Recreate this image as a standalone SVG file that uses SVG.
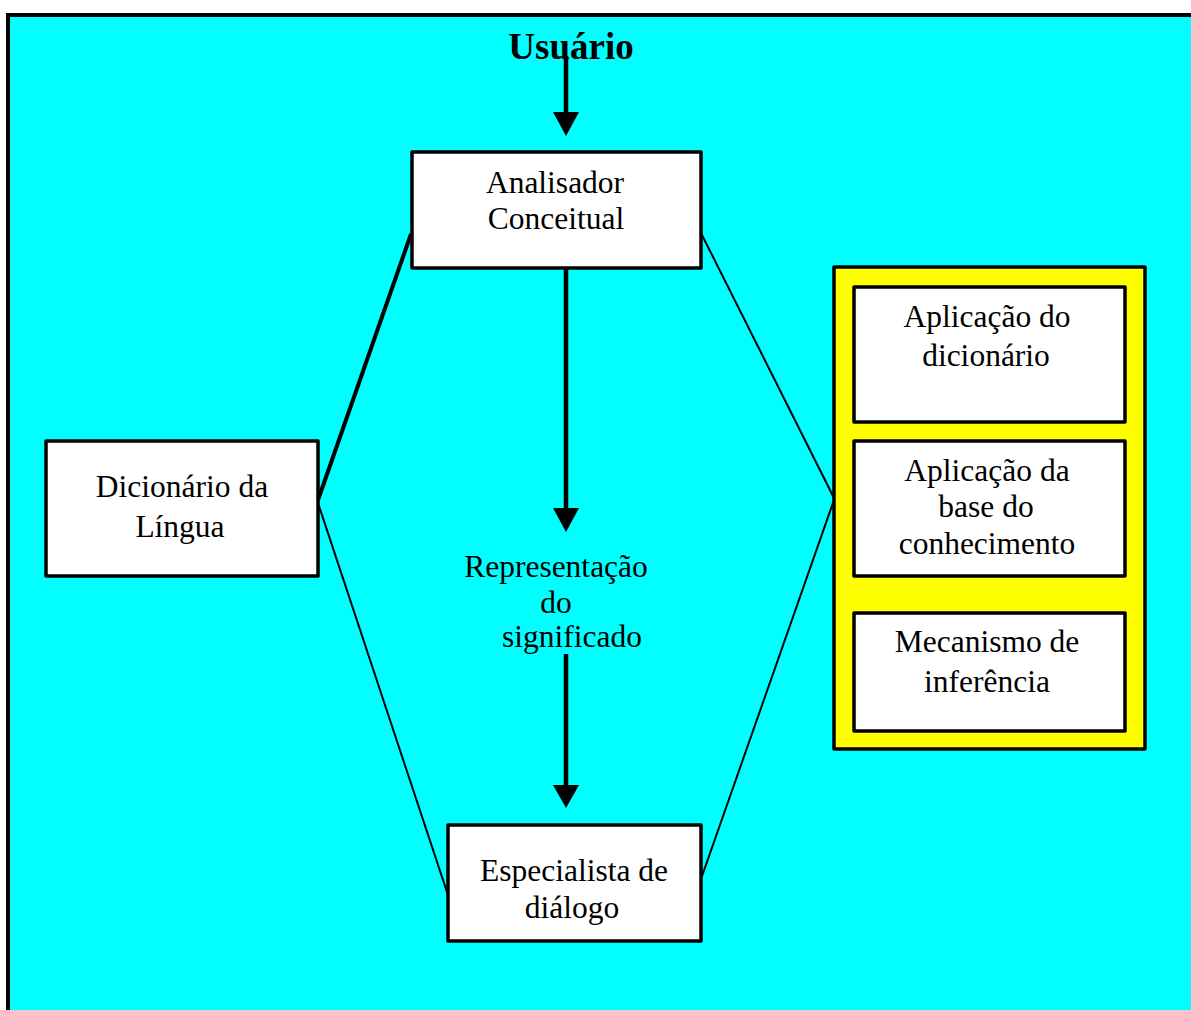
<svg xmlns="http://www.w3.org/2000/svg" width="1191" height="1010" viewBox="0 0 1191 1010">
  <style>
    .box { fill: #ffffff; stroke: #000000; stroke-width: 3.5; stroke-linejoin: round; }
    .label { font-family: "Liberation Serif", "Times New Roman", serif; font-size: 31.5px; fill: #000000; text-anchor: middle; }
    .title { font-family: "Liberation Serif", "Times New Roman", serif; font-size: 37px; font-weight: bold; fill: #000000; text-anchor: middle; }
    .flow { stroke: #000000; stroke-width: 4.5; fill: none; }
    .link { stroke: #000000; stroke-width: 2; fill: none; }
    .head { fill: #000000; }
  </style>

  <!-- background panel -->
  <rect x="8" y="15" width="1200" height="1010" fill="#00ffff" stroke="#000000" stroke-width="4"/>

  <g id="usuario">
    <text class="title" x="571" y="59">Usuário</text>
  </g>

  <g id="connectors">
    <!-- main flow: user -> analyser -> meaning -> dialogue specialist -->
    <line class="flow" x1="566" y1="56" x2="566" y2="114"/>
    <polygon class="head" points="553,112 579,112 566,136"/>
    <line class="flow" x1="566" y1="268" x2="566" y2="510"/>
    <polygon class="head" points="553,508 579,508 566,532"/>
    <line class="flow" x1="566" y1="654" x2="566" y2="787"/>
    <polygon class="head" points="553,785 579,785 566,808"/>
    <!-- side links -->
    <line class="flow" style="stroke-width:4" x1="411" y1="234" x2="318" y2="500"/>
    <line class="link" x1="318" y1="503" x2="448" y2="895"/>
    <line class="link" x1="701" y1="233" x2="834" y2="498"/>
    <line class="link" x1="834" y1="500" x2="701" y2="879"/>
  </g>

  <g id="analisador">
    <rect class="box" x="412" y="152" width="289" height="116"/>
    <text class="label" x="555" y="193">Analisador</text>
    <text class="label" x="556" y="229">Conceitual</text>
  </g>

  <g id="dicionario">
    <rect class="box" x="46" y="441" width="272" height="135"/>
    <text class="label" x="182" y="497">Dicionário da</text>
    <text class="label" x="180" y="537">Língua</text>
  </g>

  <g id="representacao">
    <text class="label" x="556" y="577">Representação</text>
    <text class="label" x="556" y="613">do</text>
    <text class="label" x="572" y="647">significado</text>
  </g>

  <g id="especialista">
    <rect class="box" x="448" y="825" width="253" height="116"/>
    <text class="label" x="574" y="881">Especialista de</text>
    <text class="label" x="572" y="918">diálogo</text>
  </g>

  <g id="aplicacoes">
    <rect x="834" y="267" width="311" height="482" fill="#ffff00" stroke="#000000" stroke-width="3.5" stroke-linejoin="round"/>
    <g id="aplicacao-dicionario">
      <rect class="box" x="854" y="287" width="271" height="135"/>
      <text class="label" x="987" y="327">Aplicação do</text>
      <text class="label" x="986" y="366">dicionário</text>
    </g>
    <g id="aplicacao-base">
      <rect class="box" x="854" y="441" width="271" height="135"/>
      <text class="label" x="987" y="481">Aplicação da</text>
      <text class="label" x="986" y="517">base do</text>
      <text class="label" x="987" y="554">conhecimento</text>
    </g>
    <g id="mecanismo">
      <rect class="box" x="854" y="613" width="271" height="118"/>
      <text class="label" x="987" y="652">Mecanismo de</text>
      <text class="label" x="987" y="692">inferência</text>
    </g>
  </g>
</svg>
